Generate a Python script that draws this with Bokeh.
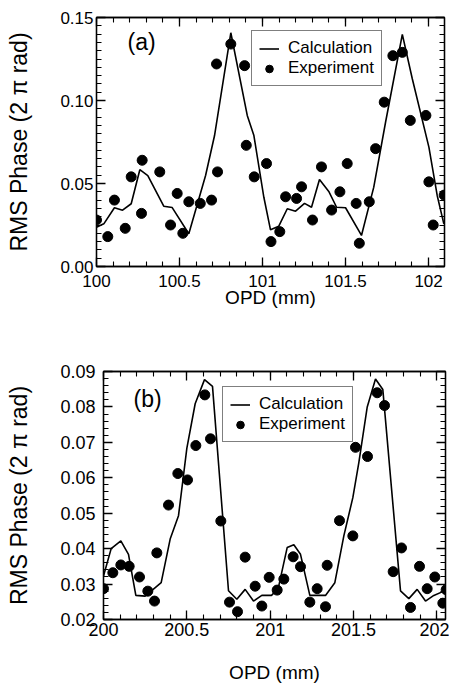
import numpy as np
from bokeh.plotting import figure
from bokeh.layouts import column
from bokeh.models import (LinearAxis, FixedTicker, Range1d, Legend, LegendItem, Label,
                          CustomLabelingPolicy)
from bokeh.embed import file_html
from bokeh.resources import INLINE

# ---------------- data: panel (a) ----------------
calc_a_x = [100.000, 100.044, 100.108, 100.157, 100.209, 100.261, 100.309, 100.405, 100.456, 100.556,
            100.657, 100.711, 100.809, 100.908, 100.948, 101.008, 101.048, 101.098, 101.149, 101.199,
            101.253, 101.295, 101.343, 101.399, 101.446, 101.500, 101.596, 101.670, 101.741, 101.842,
            101.902, 102.002, 102.052, 102.092]
calc_a_y = [0.0237, 0.0257, 0.0354, 0.0339, 0.0378, 0.0583, 0.0548, 0.0363, 0.0355, 0.0197,
            0.0548, 0.0789, 0.1408, 0.0910, 0.0789, 0.0417, 0.0221, 0.0243, 0.0348, 0.0333,
            0.0380, 0.0357, 0.0524, 0.0452, 0.0357, 0.0354, 0.0187, 0.0478, 0.0869, 0.1398,
            0.1131, 0.0719, 0.0428, 0.0257]
exp_a_x = [100.000, 100.068, 100.108, 100.173, 100.209, 100.271, 100.275, 100.381, 100.446, 100.486,
           100.520, 100.556, 100.625, 100.693, 100.729, 100.723, 100.809, 100.892, 100.902, 100.950,
           101.024, 101.051, 101.104, 101.139, 101.205, 101.235, 101.301, 101.355, 101.416, 101.466,
           101.510, 101.564, 101.583, 101.643, 101.681, 101.733, 101.785, 101.842, 101.890, 101.984,
           102.002, 102.028, 102.094]
exp_a_y = [0.028, 0.018, 0.040, 0.023, 0.054, 0.032, 0.064, 0.057, 0.025, 0.044,
           0.020, 0.039, 0.038, 0.040, 0.057, 0.122, 0.134, 0.121, 0.073, 0.054,
           0.062, 0.015, 0.021, 0.042, 0.041, 0.048, 0.028, 0.060, 0.034, 0.045,
           0.062, 0.038, 0.014, 0.039, 0.071, 0.099, 0.127, 0.129, 0.088, 0.091,
           0.051, 0.025, 0.043]
xa_ticks = [100, 100.5, 101, 101.5, 102]
xa_labels = ["100", "100.5", "101", "101.5", "102"]
ya_ticks = [0.00, 0.05, 0.10, 0.15]
ya_labels = ["0.00", "0.05", "0.10", "0.15"]

# ---------------- data: panel (b) ----------------
calc_b_x = [200.000, 200.046, 200.104, 200.150, 200.194, 200.250, 200.346, 200.400, 200.450, 200.500,
            200.550, 200.606, 200.654, 200.750, 200.800, 200.850, 200.900, 200.950, 201.008, 201.048,
            201.102, 201.142, 201.182, 201.238, 201.332, 201.388, 201.442, 201.496, 201.532, 201.582,
            201.632, 201.676, 201.782, 201.832, 201.882, 201.932, 201.982, 202.032, 202.072]
calc_b_y = [0.0323, 0.0400, 0.0422, 0.0384, 0.0268, 0.0266, 0.0304, 0.0427, 0.0493, 0.0683,
            0.0809, 0.0877, 0.0858, 0.0281, 0.0257, 0.0285, 0.0252, 0.0268, 0.0268, 0.0287,
            0.0403, 0.0411, 0.0384, 0.0268, 0.0268, 0.0304, 0.0436, 0.0544, 0.0643, 0.0799,
            0.0879, 0.0849, 0.0281, 0.0259, 0.0285, 0.0252, 0.0268, 0.0278, 0.0300]
exp_b_x = [200.000, 200.056, 200.104, 200.154, 200.216, 200.266, 200.306, 200.320, 200.390, 200.446,
           200.504, 200.554, 200.608, 200.642, 200.704, 200.756, 200.804, 200.850, 200.910, 200.950,
           200.994, 201.042, 201.082, 201.138, 201.182, 201.238, 201.282, 201.332, 201.342, 201.416,
           201.496, 201.512, 201.584, 201.642, 201.686, 201.738, 201.788, 201.842, 201.896, 201.942,
           201.988, 202.036, 202.056]
exp_b_y = [0.0287, 0.0332, 0.0354, 0.0350, 0.0320, 0.0280, 0.0252, 0.0388, 0.0523, 0.0612,
           0.0594, 0.0691, 0.0834, 0.0710, 0.0478, 0.0249, 0.0222, 0.0376, 0.0294, 0.0238,
           0.0319, 0.0283, 0.0314, 0.0377, 0.0349, 0.0249, 0.0287, 0.0236, 0.0353, 0.0479,
           0.0436, 0.0686, 0.0660, 0.0840, 0.0804, 0.0335, 0.0402, 0.0234, 0.0350, 0.0287,
           0.0320, 0.0246, 0.0284]
xb_ticks = [200, 200.5, 201, 201.5, 202]
xb_labels = ["200", "200.5", "201", "201.5", "202"]
yb_ticks = [0.02, 0.03, 0.04, 0.05, 0.06, 0.07, 0.08, 0.09]
yb_labels = ["0.02", "0.03", "0.04", "0.05", "0.06", "0.07", "0.08", "0.09"]

series_names = ["Calculation", "Experiment"]
x_title = "OPD (mm)"
y_title = "RMS Phase (2 π rad)"
FONT = "Liberation Sans"

HIDE_ALL = "for (let i = 0; i < indices.size; i++) { indices.unset(i) }\nreturn indices"


def style_axis(ax, ticks, labels, minor, fs, show_labels=True):
    ax.ticker = FixedTicker(ticks=ticks, minor_ticks=list(minor))
    ax.major_tick_in = 9
    ax.major_tick_out = 0
    ax.minor_tick_in = 5
    ax.minor_tick_out = 0
    ax.axis_line_color = "black"
    ax.axis_line_width = 1.3
    ax.major_tick_line_color = "black"
    ax.major_tick_line_width = 1.3
    ax.minor_tick_line_color = "black"
    ax.minor_tick_line_width = 1.1
    ax.major_label_text_font = FONT
    ax.major_label_text_color = "black"
    if show_labels:
        ax.major_label_overrides = {float(t): l for t, l in zip(ticks, labels)}
        ax.major_label_text_font_size = fs
    else:
        ax.major_label_policy = CustomLabelingPolicy(code=HIDE_ALL)
        ax.major_label_text_font_size = "0px"
        ax.major_label_standoff = 0


def panel(cx, cy, ex, ey, xr, yr, xt, xl, yt, yl, xminor, yminor, tag, tagpos,
          width, height, bl, bt, bb, br, tick_fs, xlab_standoff, ylab_standoff,
          ytick_standoff, xtick_standoff, legend_loc):
    p = figure(width=width, height=height, output_backend="svg", toolbar_location=None,
               x_range=Range1d(*xr), y_range=Range1d(*yr),
               min_border_left=bl, min_border_top=bt, min_border_bottom=bb, min_border_right=br,
               x_axis_location=None, y_axis_location=None)
    p.frame_align = False
    p.grid.visible = False
    p.outline_line_color = "black"
    p.outline_line_width = 1.3
    p.background_fill_color = "white"
    p.border_fill_color = "white"

    xb = LinearAxis(axis_label=x_title)
    style_axis(xb, xt, xl, xminor, tick_fs)
    xb.major_label_standoff = xtick_standoff
    xb.axis_label_standoff = xlab_standoff
    xb.axis_label_text_font_size = "19px"
    yl_ax = LinearAxis(axis_label=y_title)
    style_axis(yl_ax, yt, yl, yminor, tick_fs)
    yl_ax.major_label_standoff = ytick_standoff
    yl_ax.axis_label_standoff = ylab_standoff
    yl_ax.axis_label_text_font_size = "23px"
    yl_ax.axis_label_text_line_height = 1.0
    for ax in (xb, yl_ax):
        ax.axis_label_text_font = FONT
        ax.axis_label_text_font_style = "normal"
        ax.axis_label_text_color = "black"
    xtop = LinearAxis()
    style_axis(xtop, xt, xl, xminor, tick_fs, show_labels=False)
    yright = LinearAxis()
    style_axis(yright, yt, yl, yminor, tick_fs, show_labels=False)
    p.add_layout(xb, "below")
    p.add_layout(yl_ax, "left")
    p.add_layout(xtop, "above")
    p.add_layout(yright, "right")

    r_line = p.line(cx, cy, line_color="black", line_width=1.6)
    r_pts = p.scatter(ex, ey, marker="circle", size=10, fill_color="black", line_color="black")

    leg = Legend(items=[LegendItem(label=series_names[0], renderers=[r_line]),
                        LegendItem(label=series_names[1], renderers=[r_pts])],
                 location=legend_loc)
    leg.label_text_font = FONT
    leg.label_text_font_size = "17px"
    leg.label_text_color = "black"
    leg.border_line_color = "black"
    leg.border_line_width = 1.3
    leg.background_fill_color = "white"
    leg.background_fill_alpha = 1.0
    leg.glyph_width = 20
    leg.glyph_height = 19
    leg.label_height = 19
    leg.label_standoff = 9
    leg.padding = 7
    leg.spacing = 0
    leg.margin = 0
    p.add_layout(leg, "center")

    p.add_layout(Label(x=tagpos[0], y=tagpos[1], text=tag, text_font=FONT,
                       text_font_size="23px", text_color="black", text_baseline="middle"))
    return p


pa = panel(calc_a_x, calc_a_y, exp_a_x, exp_a_y, (100.0, 102.096), (0.0, 0.15),
           xa_ticks, xa_labels, ya_ticks, ya_labels,
           np.round(np.arange(100.0, 102.1001, 0.1), 3), np.round(np.arange(0.0, 0.15001, 0.005), 4),
           "(a)", (100.187, 0.135),
           width=449, height=330, bl=96, bt=17, bb=64, br=5, tick_fs="17px",
           xlab_standoff=-3, ylab_standoff=25, ytick_standoff=3, xtick_standoff=8,
           legend_loc=(155, 180))

pb = panel(calc_b_x, calc_b_y, exp_b_x, exp_b_y, (200.0, 202.052), (0.02, 0.09),
           xb_ticks, xb_labels, yb_ticks, yb_labels,
           np.round(np.arange(200.0, 202.0601, 0.1), 3), np.round(np.arange(0.02, 0.09001, 0.002), 4),
           "(b)", (200.18, 0.0821),
           width=449, height=364, bl=103, bt=41, bb=75, br=4, tick_fs="18px",
           xlab_standoff=23, ylab_standoff=25, ytick_standoff=8, xtick_standoff=3,
           legend_loc=(119, 177))

layout = column(pa, pb, spacing=0)
open("out.html", "w").write(file_html(layout, INLINE))
